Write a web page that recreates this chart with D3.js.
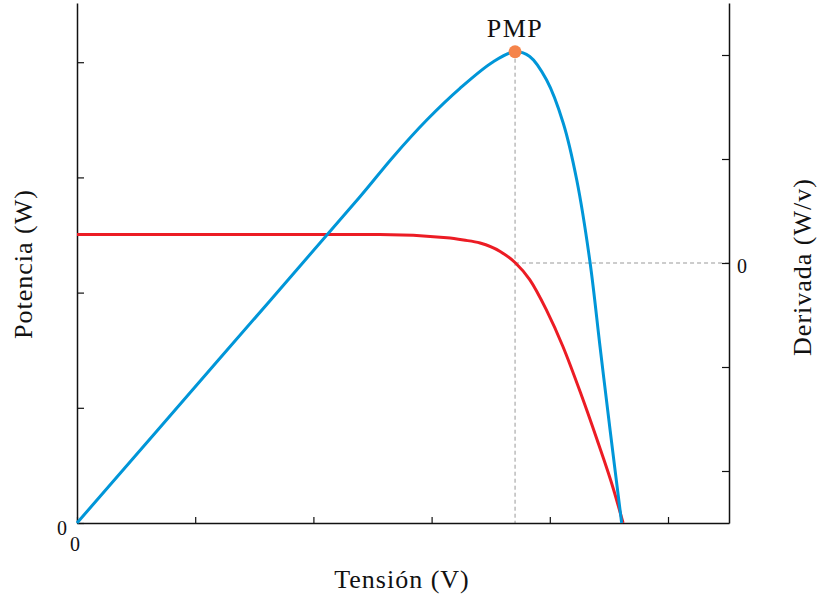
<!DOCTYPE html>
<html>
<head>
<meta charset="utf-8">
<script src="https://cdn.jsdelivr.net/npm/d3@7"></script>
<style>
  body { margin: 0; background: #fff; }
  text { font-family: "Liberation Serif", "DejaVu Serif", serif; fill: #111; }
</style>
</head>
<body>
<script>
// Curva P-V y su derivada
var tension  = [0, 1.20, 2.394, 2.676, 2.959, 3.240, 3.522, 3.706, 3.830, 3.973, 4.114, 4.228, 4.340, 4.425, 4.510, 4.608];
var potencia = [0, 1.419, 2.832, 3.180, 3.498, 3.773, 4.004, 4.091, 4.050, 3.845, 3.470, 2.977, 2.266, 1.530, 0.807, 0];

var tensionD = [0, 1.5, 2.56, 3.13, 3.27, 3.41, 3.58, 3.71, 3.83, 3.97, 4.11, 4.26, 4.40, 4.54, 4.62];
var derivada = [0.274, 0.274, 0.274, 0.243, 0.221, 0.192, 0.111, 0, -0.159, -0.448, -0.80, -1.248, -1.70, -2.18, -2.5];

var pmp = {v: 3.706, p: 4.091};

var xTicks = [0, 1, 2, 3, 4, 5];
var yTicks = [0, 1, 2, 3, 4];
var y2Ticks = [-2, -1, 0, 1, 2];

var width = 819, height = 599;
var margin = {top: 3, right: 90, bottom: 76, left: 77};

var svg = d3.select("body").append("svg")
    .attr("width", width)
    .attr("height", height);

var x = d3.scaleLinear().domain([0, 5.516]).range([margin.left, width - margin.right]);
var y = d3.scaleLinear().domain([0, 4.514]).range([height - margin.bottom, margin.top]);
var y2 = d3.scaleLinear().domain([-2.5, 2.5]).range([height - margin.bottom, margin.top]);

// guides
svg.append("line")
    .attr("x1", x(pmp.v)).attr("x2", x(pmp.v))
    .attr("y1", y(pmp.p)).attr("y2", y(0))
    .attr("stroke", "#999").attr("stroke-width", 1).attr("stroke-dasharray", "4,3");
svg.append("line")
    .attr("x1", x(pmp.v)).attr("x2", x(5.516))
    .attr("y1", y2(0)).attr("y2", y2(0))
    .attr("stroke", "#999").attr("stroke-width", 1).attr("stroke-dasharray", "4,3");

// axes (ticks pointing inwards)
svg.append("g")
    .attr("transform", "translate(0," + y(0) + ")")
    .call(d3.axisBottom(x).tickValues(xTicks).tickSizeInner(-6).tickSizeOuter(0).tickFormat(""));
svg.append("g")
    .attr("transform", "translate(" + x(0) + ",0)")
    .call(d3.axisLeft(y).tickValues(yTicks).tickSizeInner(-7).tickSizeOuter(0).tickFormat(""));
svg.append("g")
    .attr("transform", "translate(" + x(5.516) + ",0)")
    .call(d3.axisRight(y2).tickValues(y2Ticks).tickSizeInner(-7).tickSizeOuter(0).tickFormat(""));

svg.selectAll(".domain").attr("stroke", "#111").attr("stroke-width", 1.5);
svg.selectAll(".tick line").attr("stroke", "#111").attr("stroke-width", 1.2);

// curves
var linePV = d3.line()
    .x(function(d, i) { return x(tension[i]); })
    .y(function(d, i) { return y(potencia[i]); })
    .curve(d3.curveCatmullRom.alpha(0.5));
var lineD = d3.line()
    .x(function(d, i) { return x(tensionD[i]); })
    .y(function(d, i) { return y2(derivada[i]); })
    .curve(d3.curveMonotoneX);

svg.append("path")
    .datum(derivada)
    .attr("d", lineD)
    .attr("fill", "none").attr("stroke", "#ec1c24").attr("stroke-width", 3);
svg.append("path")
    .datum(potencia)
    .attr("d", linePV)
    .attr("fill", "none").attr("stroke", "#0096d8").attr("stroke-width", 3);

svg.append("circle")
    .attr("cx", x(pmp.v)).attr("cy", y(pmp.p)).attr("r", 6.5)
    .attr("fill", "#f5844a");

svg.append("text")
    .attr("x", x(pmp.v)).attr("y", 37)
    .attr("text-anchor", "middle")
    .style("font-size", "26px").style("letter-spacing", "1.5px")
    .text("PMP");

// tick labels
svg.append("text")
    .attr("x", 67).attr("y", 535)
    .attr("text-anchor", "end").style("font-size", "20px").text("0");
svg.append("text")
    .attr("x", x(0) - 2).attr("y", 551)
    .attr("text-anchor", "middle").style("font-size", "20px").text("0");
svg.append("text")
    .attr("x", 737).attr("y", y2(0) + 10)
    .attr("text-anchor", "start").style("font-size", "20px").text("0");

// axis titles
svg.append("text")
    .attr("x", 402).attr("y", 588)
    .attr("text-anchor", "middle").style("font-size", "26px").style("letter-spacing", "1px")
    .text("Tensión (V)");
svg.append("text")
    .attr("transform", "translate(32,264) rotate(-90)")
    .attr("text-anchor", "middle").style("font-size", "26px").style("letter-spacing", "1px")
    .text("Potencia (W)");
svg.append("text")
    .attr("transform", "translate(811,267) rotate(-90)")
    .attr("text-anchor", "middle").style("font-size", "26px").style("letter-spacing", "1px")
    .text("Derivada (W/v)");
</script>
</body>
</html>
